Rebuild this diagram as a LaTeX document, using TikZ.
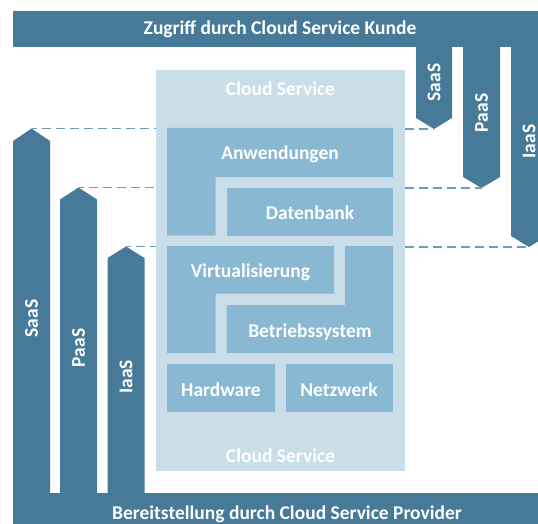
\documentclass[tikz,border=0pt]{standalone}
\usepackage{fontspec}
\setmainfont{Carlito}
\usetikzlibrary{calc}

\definecolor{darkbar}{HTML}{467A98}
\definecolor{cloudbg}{HTML}{C9DEE8}
\definecolor{layer}{HTML}{88B8D2}
\definecolor{guidecol}{HTML}{6F9CB7}

\begin{document}
\begin{tikzpicture}[x=1pt, y=-1pt,
    lbl/.style={text=white, font=\fontsize{19.5}{21}\selectfont\bfseries, inner sep=0pt, anchor=base},
    vlbl/.style={text=white, font=\fontsize{19.5}{21}\selectfont\bfseries, inner sep=0pt, rotate=90},
    guide/.style={guidecol, line width=1.4pt, dash pattern=on 9pt off 5pt}]
  \useasboundingbox (0,0) rectangle (538,524);
  \clip (0,0) rectangle (538,524);

  % Cloud service box
  \fill[cloudbg] (156,70) rectangle (405,471);
  \coordinate (cW1) at (156,128.5);
  \coordinate (cW2) at (156,187.5);
  \coordinate (cW3) at (156,246.5);
  \coordinate (cE1) at (405,129);
  \coordinate (cE2) at (405,188);
  \coordinate (cE3) at (405,247);

  % Layers
  \fill[layer] (167,128) -- (393,128) -- (393,177) -- (215.5,177) -- (215.5,235.5) -- (167,235.5) -- cycle;
  \fill[layer] (226.5,187.5) rectangle (393,235.5);
  \fill[layer] (167,246) -- (334,246) -- (334,293.5) -- (215.5,293.5) -- (215.5,353) -- (167,353) -- cycle;
  \fill[layer] (345,246) -- (393,246) -- (393,353) -- (226.5,353) -- (226.5,305) -- (345,305) -- cycle;
  \fill[layer] (167,364) rectangle (274.5,412);
  \fill[layer] (285.5,364) rectangle (393,412);

  \node[lbl] (cloudT) at (280.5,96)  {Cloud Service};
  \node[lbl] (app)    at (280,160)   {Anwendungen};
  \node[lbl] (db)     at (310,219.5) {Datenbank};
  \node[lbl] (virt)   at (250.5,277) {Virtualisierung};
  \node[lbl] (os)     at (310,337)   {Betriebssystem};
  \node[lbl] (hw)     at (221,396)   {Hardware};
  \node[lbl] (net)    at (339,396)   {Netzwerk};
  \node[lbl] (cloudB) at (280.5,462) {Cloud Service};

  % Top bar: access by customer
  \fill[darkbar] (13,11) rectangle (538,47);
  \fill[darkbar] (416,46) -- (416,118) -- (434,129) -- (452,118) -- (452,46) -- cycle;
  \fill[darkbar] (463,46) -- (463,177) -- (481.5,188) -- (500,177) -- (500,46) -- cycle;
  \fill[darkbar] (511,46) -- (511,236) -- (529,247) -- (547,236) -- (547,46) -- cycle;
  \coordinate (sR) at (434,129);
  \coordinate (pR) at (481.5,188);
  \coordinate (iR) at (529,247);
  \node[lbl] (kunde) at (280,35) {Zugriff durch Cloud Service Kunde};
  \node[vlbl] (saasR) at (434,82.5)  {SaaS};
  \node[vlbl] (paasR) at (481.5,113) {PaaS};
  \node[vlbl] (iaasR) at (529,141.5) {IaaS};

  % Bottom bar: provisioning by provider
  \fill[darkbar] (13,493) rectangle (538,524);
  \fill[darkbar] (13,494) -- (13,141) -- (31.5,128.5) -- (50,141) -- (50,494) -- cycle;
  \fill[darkbar] (60,494) -- (60,199.5) -- (78.5,187.5) -- (97,199.5) -- (97,494) -- cycle;
  \fill[darkbar] (107.5,494) -- (107.5,258) -- (126,246.5) -- (144.5,258) -- (144.5,494) -- cycle;
  \coordinate (sL) at (31.5,128.5);
  \coordinate (pL) at (78.5,187.5);
  \coordinate (iL) at (126,246.5);
  \node[lbl] (provider) at (287,519) {Bereitstellung durch Cloud Service Provider};
  \node[vlbl] (saasL) at (31.5,318.5) {SaaS};
  \node[vlbl] (paasL) at (78.5,348)   {PaaS};
  \node[vlbl] (iaasL) at (126,377)    {IaaS};

  % Guides
  \draw[guide, dash phase=-10pt] (sL) -- (cW1);
  \draw[guide, dash phase=-10pt] (pL) -- (cW2);
  \draw[guide, dash phase=-10pt] (iL) -- (cW3);
  \draw[guide] (cE1) -- (sR);
  \draw[guide] (cE2) -- (pR);
  \draw[guide] (cE3) -- (iR);
\end{tikzpicture}
\end{document}
